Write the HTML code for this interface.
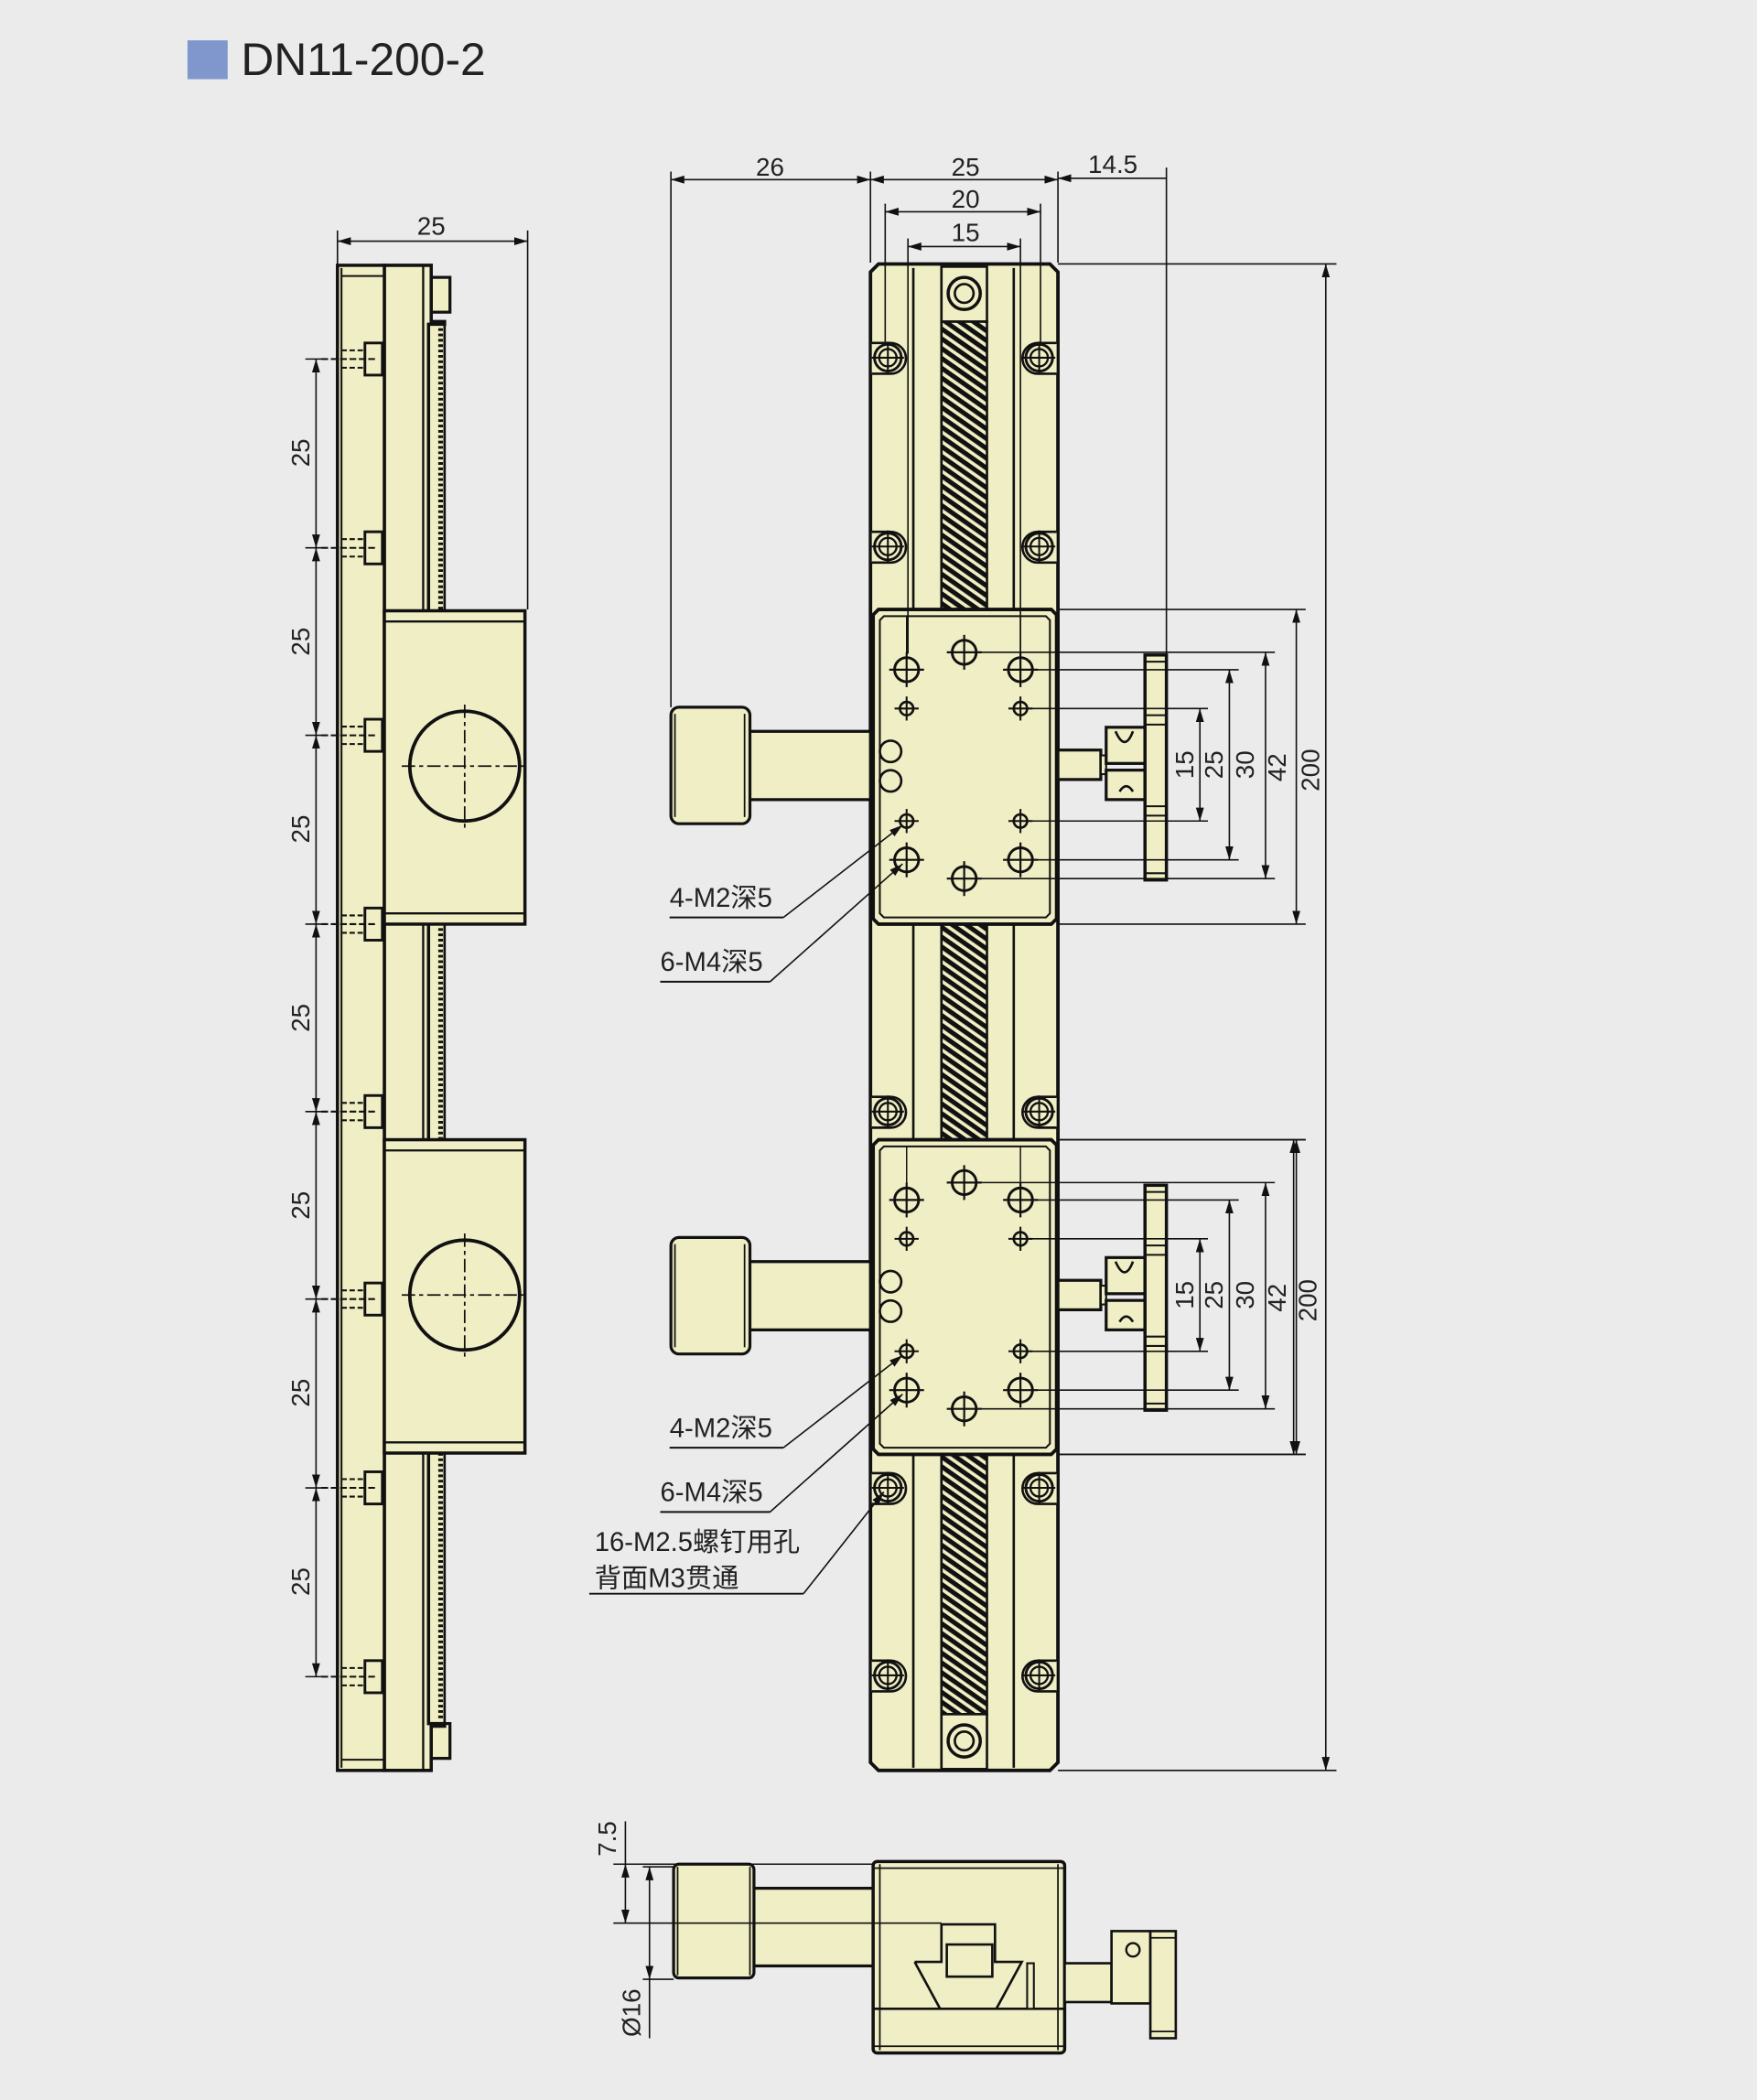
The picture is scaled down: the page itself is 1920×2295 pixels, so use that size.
<!DOCTYPE html>
<html><head><meta charset="utf-8"><style>
html,body{margin:0;padding:0;background:#ebebeb;}
svg{display:block;}
text{font-family:"Liberation Sans","Noto Sans CJK SC",sans-serif;fill:#222;}
</style></head><body>
<svg width="1920" height="2295" viewBox="0 0 1312 1568" xmlns="http://www.w3.org/2000/svg">
<defs>
<pattern id="hatch" patternUnits="userSpaceOnUse" width="6" height="6" patternTransform="rotate(35)">
<rect width="6" height="6" fill="#f0eec4"/><rect width="6" height="3.5" fill="#111"/>
</pattern>
<marker id="ar" viewBox="0 0 10 6" refX="10" refY="3" markerWidth="10" markerHeight="6" orient="auto-start-reverse" markerUnits="userSpaceOnUse"><path d="M0,0L10,3L0,6z" fill="#111"/></marker>
<g id="mh" stroke="#111" fill="none">
<circle r="10" stroke-width="2"/><circle r="6.5" stroke-width="1.6"/>
<line x1="-12" y1="0" x2="12" y2="0" stroke-width="1.4"/><line x1="0" y1="-12" x2="0" y2="12" stroke-width="1.4"/>
</g>
<g id="bh" stroke="#111" fill="none" stroke-width="2">
<circle r="9"/><line x1="-13" y1="0" x2="13" y2="0" stroke-width="1.5"/><line x1="0" y1="-13" x2="0" y2="13" stroke-width="1.5"/>
</g>
<g id="sh" stroke="#111" fill="none" stroke-width="1.8">
<circle r="5"/><line x1="-9" y1="0" x2="9" y2="0" stroke-width="1.4"/><line x1="0" y1="-9" x2="0" y2="9" stroke-width="1.4"/>
</g>
<g id="sidehole" stroke="#111" fill="#f0eec4">
<rect x="272.5" y="-12" width="13" height="24" stroke-width="2"/>
<line x1="255" y1="-6.5" x2="272" y2="-6.5" stroke-width="1.4" stroke-dasharray="4,2"/>
<line x1="240" y1="0" x2="280" y2="0" stroke-width="1.4" stroke-dasharray="5,2"/>
<line x1="255" y1="6.5" x2="272" y2="6.5" stroke-width="1.4" stroke-dasharray="4,2"/>
</g>
<g id="sidecar" stroke="#111" fill="#f0eec4">
<rect x="287" y="456" width="105" height="234" stroke-width="2.4"/>
<line x1="287" y1="464" x2="392" y2="464" stroke-width="1.6"/>
<line x1="287" y1="682" x2="392" y2="682" stroke-width="1.6"/>
<circle cx="347" cy="572" r="41" stroke-width="2.6"/>
<line x1="300" y1="572" x2="394" y2="572" stroke-width="1.2" stroke-dasharray="10,3,3,3"/>
<line x1="347" y1="526" x2="347" y2="618" stroke-width="1.2" stroke-dasharray="10,3,3,3"/>
</g>
<g id="car">
<path d="M560,546 L650,546 L650,597 L560,597 L557,592 L557,551Z" fill="#f0eec4" stroke="#111" stroke-width="2.2"/>
<rect x="501" y="528" width="59" height="87" rx="6" fill="#f0eec4" stroke="#111" stroke-width="2.2"/>
<line x1="504" y1="533" x2="504" y2="610" stroke="#111" stroke-width="1.2"/>
<line x1="556" y1="533" x2="556" y2="610" stroke="#111" stroke-width="1.2"/>
<path d="M656,455 L785,455 L789,459 L789,686 L785,690 L656,690 L652,686 L652,459Z" fill="#f0eec4" stroke="#111" stroke-width="2.6"/>
<path d="M660,460 L781,460 L784,463 L784,682 L781,685 L660,685 L657,682 L657,463Z" fill="none" stroke="#111" stroke-width="1.4"/>
<rect x="790" y="560" width="32" height="22" fill="#f0eec4" stroke="#111" stroke-width="2.2"/>
<rect x="822" y="564" width="4" height="14" fill="#f0eec4" stroke="#111" stroke-width="1.4"/>
<rect x="826" y="543" width="30" height="27" fill="#f0eec4" stroke="#111" stroke-width="2.2"/>
<rect x="826" y="575" width="30" height="22" fill="#f0eec4" stroke="#111" stroke-width="2.2"/>
<path d="M833,546 Q840,562 846,546" fill="none" stroke="#111" stroke-width="1.8"/>
<path d="M836,591 Q841,583 846,591" fill="none" stroke="#111" stroke-width="1.8"/>
<rect x="855" y="489" width="16" height="168" fill="#f0eec4" stroke="#111" stroke-width="2.4"/>
<line x1="855" y1="494" x2="871" y2="494" stroke="#111" stroke-width="1.4"/>
<line x1="855" y1="652" x2="871" y2="652" stroke="#111" stroke-width="1.4"/>
<line x1="855" y1="534" x2="871" y2="534" stroke="#111" stroke-width="1.4"/>
<line x1="855" y1="541" x2="871" y2="541" stroke="#111" stroke-width="1.4"/>
<line x1="855" y1="602" x2="871" y2="602" stroke="#111" stroke-width="1.4"/>
<line x1="855" y1="609" x2="871" y2="609" stroke="#111" stroke-width="1.4"/>
<use href="#bh" x="677" y="500"/><use href="#bh" x="762" y="500"/><use href="#bh" x="720" y="487"/>
<use href="#bh" x="677" y="642"/><use href="#bh" x="762" y="642"/><use href="#bh" x="720" y="656"/>
<use href="#sh" x="677" y="529"/><use href="#sh" x="762" y="529"/><use href="#sh" x="677" y="613"/><use href="#sh" x="762" y="613"/>
<circle cx="665" cy="561" r="8" fill="none" stroke="#111" stroke-width="1.8"/>
<circle cx="665" cy="583" r="8" fill="none" stroke="#111" stroke-width="1.8"/>
<line x1="677" y1="460" x2="677" y2="488" stroke="#111" stroke-width="1"/>
<line x1="762" y1="460" x2="762" y2="488" stroke="#111" stroke-width="1"/>
<g stroke="#111" stroke-width="1.1" fill="none">
<line x1="790" y1="455" x2="975" y2="455"/><line x1="790" y1="690" x2="975" y2="690"/>
<line x1="730" y1="487" x2="952" y2="487"/><line x1="770" y1="500" x2="925" y2="500"/>
<line x1="768" y1="529" x2="902" y2="529"/><line x1="768" y1="613" x2="902" y2="613"/>
<line x1="770" y1="642" x2="925" y2="642"/><line x1="730" y1="656" x2="952" y2="656"/>
<line x1="896" y1="529" x2="896" y2="613" marker-start="url(#ar)" marker-end="url(#ar)"/>
<line x1="918" y1="500" x2="918" y2="642" marker-start="url(#ar)" marker-end="url(#ar)"/>
<line x1="945" y1="487" x2="945" y2="656" marker-start="url(#ar)" marker-end="url(#ar)"/>
<line x1="968" y1="455" x2="968" y2="690" marker-start="url(#ar)" marker-end="url(#ar)"/>
<line x1="500" y1="685" x2="585" y2="685" stroke-width="1.3"/><line x1="585" y1="685" x2="674" y2="616" marker-end="url(#ar)"/>
<line x1="493" y1="733" x2="575" y2="733" stroke-width="1.3"/><line x1="575" y1="733" x2="674" y2="645" marker-end="url(#ar)"/>
</g>
<g font-size="19">
<text x="886" y="571" transform="rotate(-90 886 571)" text-anchor="middle" dominant-baseline="middle">15</text>
<text x="908" y="571" transform="rotate(-90 908 571)" text-anchor="middle" dominant-baseline="middle">25</text>
<text x="931" y="571" transform="rotate(-90 931 571)" text-anchor="middle" dominant-baseline="middle">30</text>
<text x="955" y="573" transform="rotate(-90 955 573)" text-anchor="middle" dominant-baseline="middle">42</text>
</g>
<g font-size="20">
<text x="500" y="677">4-M2深5</text>
<text x="493" y="725">6-M4深5</text>
</g>
</g>
</defs>

<rect width="1312" height="1568" fill="#ebebeb"/>
<rect x="140" y="30" width="30" height="29" fill="#7f97cd"/>
<text x="180" y="56" font-size="34">DN11-200-2</text>

<!-- SIDE VIEW -->
<g stroke="#111" fill="#f0eec4">
<rect x="320" y="242" width="12" height="1045" stroke-width="1.8"/>
<line x1="329" y1="245" x2="329" y2="1284" stroke-width="3.5" stroke-dasharray="2,2"/>
<rect x="322" y="207" width="14" height="26" stroke-width="2.2"/>
<rect x="322" y="1287" width="14" height="26" stroke-width="2.2"/>
<path d="M287,198 L322,198 L322,240 L332,240 L332,242 L320,242 L320,1287 L332,1287 L332,1289 L322,1289 L322,1322 L287,1322Z" stroke-width="2.4"/>
<line x1="316" y1="198" x2="316" y2="1322" stroke-width="1.6"/>
<rect x="252" y="198" width="35" height="1124" stroke-width="2.4"/>
<line x1="255" y1="200" x2="255" y2="1320" stroke-width="1.4"/>
<line x1="255" y1="206" x2="287" y2="206" stroke-width="1.4"/>
<line x1="255" y1="1314" x2="287" y2="1314" stroke-width="1.4"/>
</g>
<use href="#sidecar"/><use href="#sidecar" y="395"/>
<use href="#sidehole" y="268"/><use href="#sidehole" y="409"/><use href="#sidehole" y="549"/><use href="#sidehole" y="690"/>
<use href="#sidehole" y="830"/><use href="#sidehole" y="970"/><use href="#sidehole" y="1111"/><use href="#sidehole" y="1252"/>
<g stroke="#111" stroke-width="1.1" fill="none">
<line x1="228" y1="268" x2="245" y2="268"/><line x1="228" y1="409" x2="245" y2="409"/><line x1="228" y1="549" x2="245" y2="549"/><line x1="228" y1="690" x2="245" y2="690"/>
<line x1="228" y1="830" x2="245" y2="830"/><line x1="228" y1="970" x2="245" y2="970"/><line x1="228" y1="1111" x2="245" y2="1111"/><line x1="228" y1="1252" x2="245" y2="1252"/>
<line x1="236" y1="268" x2="236" y2="409" marker-start="url(#ar)" marker-end="url(#ar)"/>
<line x1="236" y1="409" x2="236" y2="549" marker-start="url(#ar)" marker-end="url(#ar)"/>
<line x1="236" y1="549" x2="236" y2="690" marker-start="url(#ar)" marker-end="url(#ar)"/>
<line x1="236" y1="690" x2="236" y2="830" marker-start="url(#ar)" marker-end="url(#ar)"/>
<line x1="236" y1="830" x2="236" y2="970" marker-start="url(#ar)" marker-end="url(#ar)"/>
<line x1="236" y1="970" x2="236" y2="1111" marker-start="url(#ar)" marker-end="url(#ar)"/>
<line x1="236" y1="1111" x2="236" y2="1252" marker-start="url(#ar)" marker-end="url(#ar)"/>
<line x1="252" y1="172" x2="252" y2="197"/><line x1="394" y1="172" x2="394" y2="455"/>
<line x1="252" y1="180" x2="394" y2="180" marker-start="url(#ar)" marker-end="url(#ar)"/>
</g>
<g font-size="19">
<text x="322" y="175" text-anchor="middle">25</text>
<text x="226" y="338" transform="rotate(-90 226 338)" text-anchor="middle" dominant-baseline="middle">25</text>
<text x="226" y="479" transform="rotate(-90 226 479)" text-anchor="middle" dominant-baseline="middle">25</text>
<text x="226" y="619" transform="rotate(-90 226 619)" text-anchor="middle" dominant-baseline="middle">25</text>
<text x="226" y="760" transform="rotate(-90 226 760)" text-anchor="middle" dominant-baseline="middle">25</text>
<text x="226" y="900" transform="rotate(-90 226 900)" text-anchor="middle" dominant-baseline="middle">25</text>
<text x="226" y="1040" transform="rotate(-90 226 1040)" text-anchor="middle" dominant-baseline="middle">25</text>
<text x="226" y="1181" transform="rotate(-90 226 1181)" text-anchor="middle" dominant-baseline="middle">25</text>
</g>

<!-- TOP VIEW -->
<path d="M656,197 L784,197 L790,203 L790,1316 L784,1322 L656,1322 L650,1316 L650,203Z" fill="#f0eec4" stroke="#111" stroke-width="2.6"/>
<g stroke="#111" fill="none">
<line x1="682" y1="200" x2="682" y2="1320" stroke-width="1.8"/>
<line x1="757" y1="200" x2="757" y2="1320" stroke-width="1.8"/>
<rect x="703" y="240" width="34" height="1040" fill="url(#hatch)" stroke-width="1.8"/>
<rect x="703" y="199" width="34" height="41" fill="#f0eec4" stroke-width="1.8"/>
<rect x="703" y="1280" width="34" height="41" fill="#f0eec4" stroke-width="1.8"/>
<circle cx="720" cy="219" r="12" stroke-width="2.4"/><circle cx="720" cy="219" r="7" stroke-width="1.8"/>
<circle cx="720" cy="1300" r="12" stroke-width="2.4"/><circle cx="720" cy="1300" r="7" stroke-width="1.8"/>
</g>
<g stroke="#111" stroke-width="1.8" fill="#f0eec4">
<path d="M651,256 L665,256 A11,11 0 0 1 665,279 L651,279"/><path d="M789,256 L775,256 A11,11 0 0 0 775,279 L789,279"/>
<path d="M651,397 L665,397 A11,11 0 0 1 665,420 L651,420"/><path d="M789,397 L775,397 A11,11 0 0 0 775,420 L789,420"/>
<path d="M651,819 L665,819 A11,11 0 0 1 665,842 L651,842"/><path d="M789,819 L775,819 A11,11 0 0 0 775,842 L789,842"/>
<path d="M651,1100 L665,1100 A11,11 0 0 1 665,1123 L651,1123"/><path d="M789,1100 L775,1100 A11,11 0 0 0 775,1123 L789,1123"/>
<path d="M651,1240 L665,1240 A11,11 0 0 1 665,1263 L651,1263"/><path d="M789,1240 L775,1240 A11,11 0 0 0 775,1263 L789,1263"/>
</g>
<use href="#mh" x="663" y="267"/><use href="#mh" x="776" y="267"/>
<use href="#mh" x="663" y="408"/><use href="#mh" x="776" y="408"/>
<use href="#mh" x="663" y="830"/><use href="#mh" x="776" y="830"/>
<use href="#mh" x="663" y="1111"/><use href="#mh" x="776" y="1111"/>
<use href="#mh" x="663" y="1251"/><use href="#mh" x="776" y="1251"/>

<use href="#car"/><use href="#car" y="396"/>

<g stroke="#111" stroke-width="1.1" fill="none">
<line x1="501" y1="128" x2="501" y2="528"/><line x1="650" y1="128" x2="650" y2="196"/>
<line x1="790" y1="128" x2="790" y2="196"/><line x1="871" y1="125" x2="871" y2="488"/>
<line x1="661" y1="152" x2="661" y2="256"/><line x1="777" y1="152" x2="777" y2="256"/>
<line x1="678" y1="178" x2="678" y2="488"/><line x1="762" y1="178" x2="762" y2="488"/>
<line x1="501" y1="134" x2="650" y2="134" marker-start="url(#ar)" marker-end="url(#ar)"/>
<line x1="650" y1="134" x2="790" y2="134" marker-start="url(#ar)" marker-end="url(#ar)"/>
<line x1="790" y1="133" x2="871" y2="133" marker-start="url(#ar)"/>
<line x1="661" y1="158" x2="777" y2="158" marker-start="url(#ar)" marker-end="url(#ar)"/>
<line x1="678" y1="184" x2="762" y2="184" marker-start="url(#ar)" marker-end="url(#ar)"/>
<line x1="790" y1="197" x2="998" y2="197"/><line x1="790" y1="1322" x2="998" y2="1322"/>
<line x1="990" y1="197" x2="990" y2="1322" marker-start="url(#ar)" marker-end="url(#ar)"/>
<line x1="440" y1="1190" x2="600" y2="1190" stroke-width="1.3"/><line x1="600" y1="1190" x2="660" y2="1114" marker-end="url(#ar)"/>
<line x1="790" y1="851" x2="975" y2="851"/><line x1="790" y1="1086" x2="975" y2="1086"/>
<line x1="966" y1="851" x2="966" y2="1086" marker-start="url(#ar)" marker-end="url(#ar)"/>
</g>
<g font-size="19">
<text x="575" y="131" text-anchor="middle">26</text>
<text x="721" y="131" text-anchor="middle">25</text>
<text x="831" y="129" text-anchor="middle">14.5</text>
<text x="721" y="155" text-anchor="middle">20</text>
<text x="721" y="180" text-anchor="middle">15</text>
<text x="980" y="575" transform="rotate(-90 980 575)" text-anchor="middle" dominant-baseline="middle">200</text>
<text x="978" y="971" transform="rotate(-90 978 971)" text-anchor="middle" dominant-baseline="middle">200</text>
</g>
<g font-size="20">
<text x="444" y="1158">16-M2.5螺钉用孔</text>
<text x="444" y="1185">背面M3贯通</text>
</g>

<!-- END VIEW -->
<g stroke="#111" fill="#f0eec4">
<rect x="563" y="1410" width="90" height="58" stroke-width="2.2"/>
<rect x="503" y="1392" width="60" height="85" rx="4" stroke-width="2.2"/>
<line x1="506" y1="1394" x2="506" y2="1475" stroke-width="1.2"/><line x1="560" y1="1394" x2="560" y2="1475" stroke-width="1.2"/>
<rect x="652" y="1390" width="143" height="143" rx="3" stroke-width="2.4"/>
<line x1="657" y1="1392" x2="657" y2="1531" stroke-width="1.2"/><line x1="790" y1="1392" x2="790" y2="1531" stroke-width="1.2"/>
<line x1="652" y1="1395" x2="795" y2="1395" stroke-width="1.2"/><line x1="652" y1="1528" x2="795" y2="1528" stroke-width="1.2"/>
<line x1="652" y1="1500" x2="795" y2="1500" stroke-width="1.8"/>
<path d="M683,1465 L703,1465 L703,1437 L743,1437 L743,1465 L763,1465 L744,1500 M702,1500 L683,1465" fill="none" stroke-width="1.8"/>
<rect x="707" y="1452" width="34" height="24" stroke-width="1.8"/>
<rect x="767" y="1466" width="5" height="34" stroke-width="1.4"/>
<rect x="795" y="1466" width="35" height="29" stroke-width="1.8"/>
<rect x="830" y="1442" width="29" height="54" stroke-width="1.8"/>
<circle cx="846" cy="1456" r="5" fill="none" stroke-width="1.6"/>
<rect x="859" y="1442" width="19" height="80" stroke-width="1.8"/>
<line x1="859" y1="1447" x2="878" y2="1447" stroke-width="1.2"/><line x1="859" y1="1517" x2="878" y2="1517" stroke-width="1.2"/>
</g>
<g stroke="#111" stroke-width="1.1" fill="none">
<line x1="458" y1="1392" x2="652" y2="1392"/><line x1="458" y1="1436" x2="703" y2="1436"/>
<line x1="480" y1="1394" x2="503" y2="1394"/><line x1="480" y1="1478" x2="503" y2="1478"/>
<line x1="467" y1="1360" x2="467" y2="1392"/>
<line x1="467" y1="1392" x2="467" y2="1436" marker-start="url(#ar)" marker-end="url(#ar)"/>
<line x1="485" y1="1394" x2="485" y2="1478" marker-start="url(#ar)" marker-end="url(#ar)"/>
<line x1="485" y1="1478" x2="485" y2="1522"/>
</g>
<g font-size="19">
<text x="455" y="1373" transform="rotate(-90 455 1373)" text-anchor="middle" dominant-baseline="middle">7.5</text>
<text x="473" y="1503" transform="rotate(-90 473 1503)" text-anchor="middle" dominant-baseline="middle">Ø16</text>
</g>
</svg>
</body></html>
